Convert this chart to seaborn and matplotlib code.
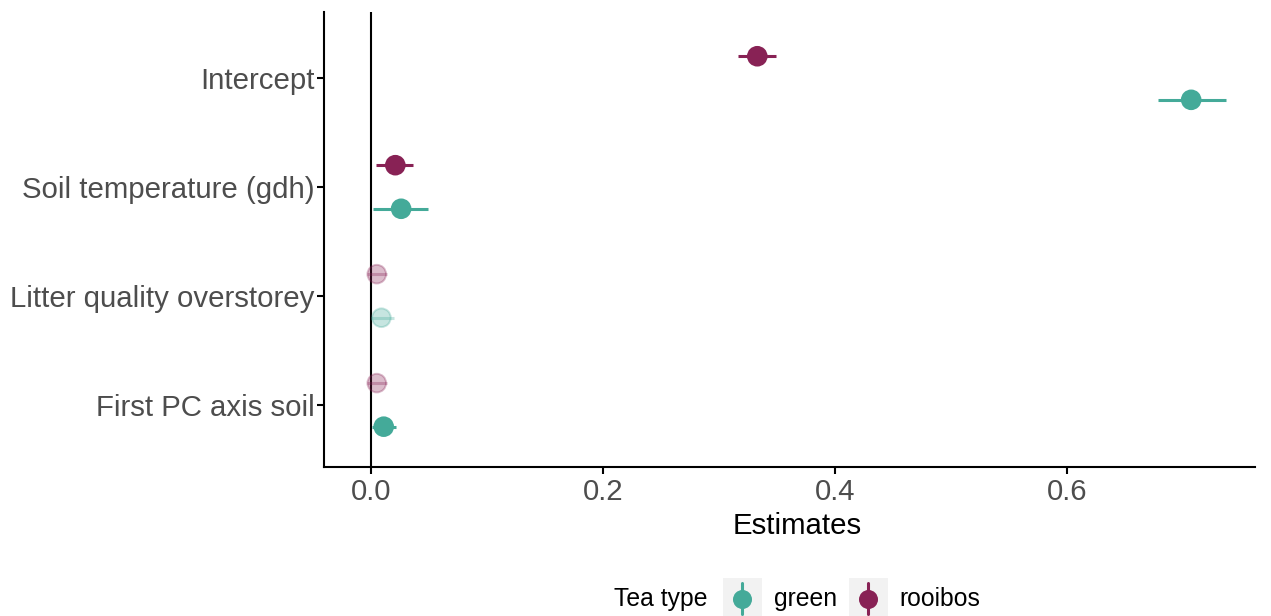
import numpy as np
import pandas as pd
import matplotlib.pyplot as plt
import seaborn as sns
from matplotlib.patches import Rectangle
from matplotlib.lines import Line2D

# model estimates with 95% intervals
terms = ['Intercept', 'Soil temperature (gdh)', 'Litter quality overstorey', 'First PC axis soil']
tea_types = ['green', 'rooibos']

green_est = [0.707, 0.026, 0.009, 0.011]
green_lo = [0.678, 0.002, 0.000, 0.001]
green_hi = [0.737, 0.049, 0.020, 0.022]
green_sig = [True, True, False, True]

rooibos_est = [0.333, 0.021, 0.005, 0.005]
rooibos_lo = [0.316, 0.004, -0.003, -0.003]
rooibos_hi = [0.349, 0.036, 0.014, 0.014]
rooibos_sig = [True, True, False, False]

tea_colours = {'green': '#44AA99', 'rooibos': '#882255'}
dodge = {'green': 0.2, 'rooibos': -0.2}

#build a long table from the lists
df = pd.concat([
    pd.DataFrame({'term': terms, 'tea': 'green', 'est': green_est,
                  'lo': green_lo, 'hi': green_hi, 'sig': green_sig}),
    pd.DataFrame({'term': terms, 'tea': 'rooibos', 'est': rooibos_est,
                  'lo': rooibos_lo, 'hi': rooibos_hi, 'sig': rooibos_sig}),
], ignore_index=True)
df['ypos'] = df['term'].map({t: i for i, t in enumerate(terms)}) + df['tea'].map(dodge)

sns.set_theme(style='white')
plt.rcParams['font.family'] = ['Liberation Sans', 'DejaVu Sans']

fig = plt.figure(figsize=(12.71, 6.16), dpi=100)
ax = fig.add_axes([0.2549, 0.2419, 0.7325, 0.7386])

ax.axvline(0, color='black', lw=1.5, zorder=1)

for sig, alpha in [(True, 1.0), (False, 0.3)]:
    sub = df[df['sig'] == sig]
    for _, r in sub.iterrows():
        ax.hlines(r['ypos'], r['lo'], r['hi'], color=tea_colours[r['tea']],
                  lw=2.2, alpha=alpha, zorder=2)
    sns.scatterplot(data=sub, x='est', y='ypos', hue='tea', palette=tea_colours,
                    s=180, alpha=alpha, linewidth=1.4, legend=False, ax=ax, zorder=3)
    # matching outlines, like ggplot's stroked points
    for coll in ax.collections[-1:]:
        coll.set_edgecolor(coll.get_facecolor())

ax.set_xlim(-0.0405, 0.762)
ax.set_ylim(3.57, -0.606)
ax.set_yticks(range(len(terms)))
ax.set_yticklabels(terms)
ax.set_xticks([0, 0.2, 0.4, 0.6])
ax.set_xticklabels(['0.0', '0.2', '0.4', '0.6'])
ax.set_xlabel('Estimates', fontsize=21.2, color='black')
ax.xaxis.set_label_coords((797 - 324) / 931, -0.1)
ax.set_ylabel('')
ax.tick_params(axis='both', labelsize=21.2, labelcolor='#4D4D4D', color='black',
               length=5, width=1.5, direction='out', left=True, bottom=True)
ax.tick_params(axis='y', pad=2)
ax.tick_params(axis='x', pad=3)
for side in ['top', 'right']:
    ax.spines[side].set_visible(False)
for side in ['left', 'bottom']:
    ax.spines[side].set_color('black')
    ax.spines[side].set_linewidth(1.5)

# legend drawn by hand at the bottom, ggplot style
W, H = 1271, 616
fig.text(614 / W, 1 - 599 / H, 'Tea type', fontsize=17.8, color='black', va='center', ha='left')
key_x = {'green': 742, 'rooibos': 868}
text_x = {'green': 774, 'rooibos': 899}
for tea in tea_types:
    kx = key_x[tea]
    fig.patches.append(Rectangle(((kx - 19.5) / W, 0), 39 / W, 38 / H,
                                 transform=fig.transFigure, facecolor='#F2F2F2',
                                 edgecolor='none', zorder=0))
    fig.lines.append(Line2D([kx / W, kx / W], [1 - 583 / H, 1 - 614 / H],
                            transform=fig.transFigure, color=tea_colours[tea], lw=2.2))
    fig.lines.append(Line2D([kx / W], [1 - 599 / H], transform=fig.transFigure,
                            marker='o', ms=13.7, color=tea_colours[tea], mec='none', lw=0))
    fig.text(text_x[tea] / W, 1 - 599 / H, tea, fontsize=17.8, color='black',
             va='center', ha='left')

fig.savefig('out.png', dpi=100)
